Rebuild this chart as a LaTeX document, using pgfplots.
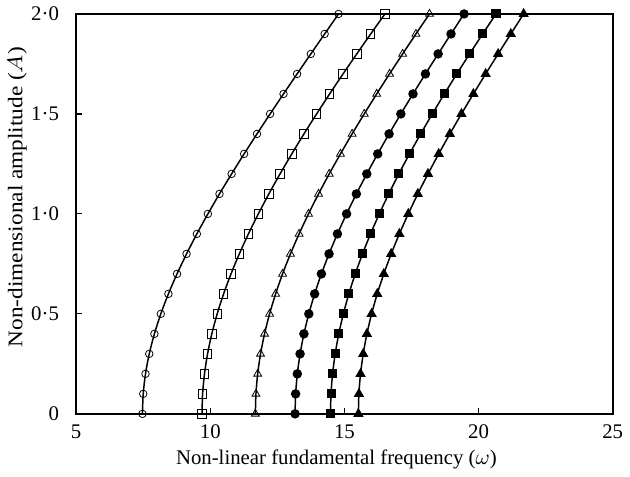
\documentclass[border=0pt]{standalone}
\usepackage{fontspec}
\setmainfont{Liberation Serif}
\usepackage{graphicx}
\usepackage{pgfplots}
\pgfplotsset{compat=1.18}
\begin{document}
\fontsize{10.5}{12}\selectfont
\begin{tikzpicture}
\begin{axis}[
  scale only axis,
  width=271pt, height=202pt,
  xmin=5, xmax=25, ymin=0, ymax=2,
  xtick={5,10,15,20,25},
  ytick={0,0.5,1,1.5,2},
  yticklabels={0,0·5,1·0,1·5,2·0},
  /pgf/number format/assume math mode=true,
  tick pos=left, tick align=inside,
  major tick length=3pt,
  axis line style={line width=0.9pt},
  every tick/.style={black, line width=0.6pt},
  yticklabel style={xshift=-5pt},
  xticklabel style={yshift=-2pt},
  xlabel={Non-linear fundamental frequency ($\omega$)},
  ylabel={\scalebox{1.12}[1]{Non-dimensional amplitude ($A$)}},
  xlabel style={at={(axis description cs:0.485,-0.114)}, anchor=center},
  ylabel style={at={(axis description cs:-0.11,0.542)}, anchor=center},
  clip=false,
  every axis plot/.append style={black, line width=0.75pt, smooth},
]
\path (rel axis cs:-0.142,-0.156) rectangle (rel axis cs:1.0203,1.0297);
% Curve 1 open circles
\addplot[mark=o, mark size=1.9pt, mark options={line width=0.4pt}] table {
x y
7.470 0.0
7.499 0.1
7.584 0.2
7.724 0.3
7.916 0.4
8.155 0.5
8.438 0.6
8.760 0.7
9.115 0.8
9.499 0.9
9.910 1.0
10.342 1.1
10.794 1.2
11.260 1.3
11.740 1.4
12.230 1.5
12.729 1.6
13.235 1.7
13.747 1.8
14.262 1.9
14.780 2.0
};
% Curve 2 open squares
\addplot[mark=square, mark size=2.1pt, mark options={line width=0.4pt}] table {
x y
9.690 0.0
9.713 0.1
9.783 0.2
9.898 0.3
10.056 0.4
10.257 0.5
10.496 0.6
10.772 0.7
11.082 0.8
11.421 0.9
11.790 1.0
12.183 1.1
12.600 1.2
13.037 1.3
13.491 1.4
13.963 1.5
14.449 1.6
14.948 1.7
15.459 1.8
15.980 1.9
16.510 2.0
};
% Curve 3 open triangles
\addplot[mark=triangle, mark size=2.3pt, mark options={line width=0.4pt}] table {
x y
11.680 0.0
11.702 0.1
11.766 0.2
11.873 0.3
12.022 0.4
12.209 0.5
12.435 0.6
12.694 0.7
12.987 0.8
13.310 0.9
13.660 1.0
14.035 1.1
14.433 1.2
14.851 1.3
15.286 1.4
15.738 1.5
16.203 1.6
16.681 1.7
17.169 1.8
17.665 1.9
18.170 2.0
};
% Curve 4 filled circles
\addplot[mark=*, mark size=2pt] table {
x y
13.160 0.0
13.181 0.1
13.244 0.2
13.347 0.3
13.490 0.4
13.672 0.5
13.890 0.6
14.142 0.7
14.426 0.8
14.740 0.9
15.080 1.0
15.445 1.1
15.833 1.2
16.240 1.3
16.664 1.4
17.103 1.5
17.556 1.6
18.020 1.7
18.493 1.8
18.973 1.9
19.460 2.0
};
% Curve 5 filled squares
\addplot[mark=square*, mark size=1.9pt] table {
x y
14.480 0.0
14.500 0.1
14.558 0.2
14.655 0.3
14.789 0.4
14.960 0.5
15.165 0.6
15.404 0.7
15.674 0.8
15.973 0.9
16.300 1.0
16.652 1.1
17.028 1.2
17.425 1.3
17.842 1.4
18.276 1.5
18.725 1.6
19.189 1.7
19.666 1.8
20.153 1.9
20.650 2.0
};
% Curve 6 filled triangles
\addplot[mark=triangle*, mark size=2.3pt] table {
x y
15.520 0.0
15.540 0.1
15.600 0.2
15.700 0.3
15.838 0.4
16.013 0.5
16.223 0.6
16.468 0.7
16.743 0.8
17.048 0.9
17.380 1.0
17.736 1.1
18.115 1.2
18.514 1.3
18.930 1.4
19.362 1.5
19.807 1.6
20.264 1.7
20.729 1.8
21.202 1.9
21.680 2.0
};
\end{axis}
\end{tikzpicture}
\end{document}
